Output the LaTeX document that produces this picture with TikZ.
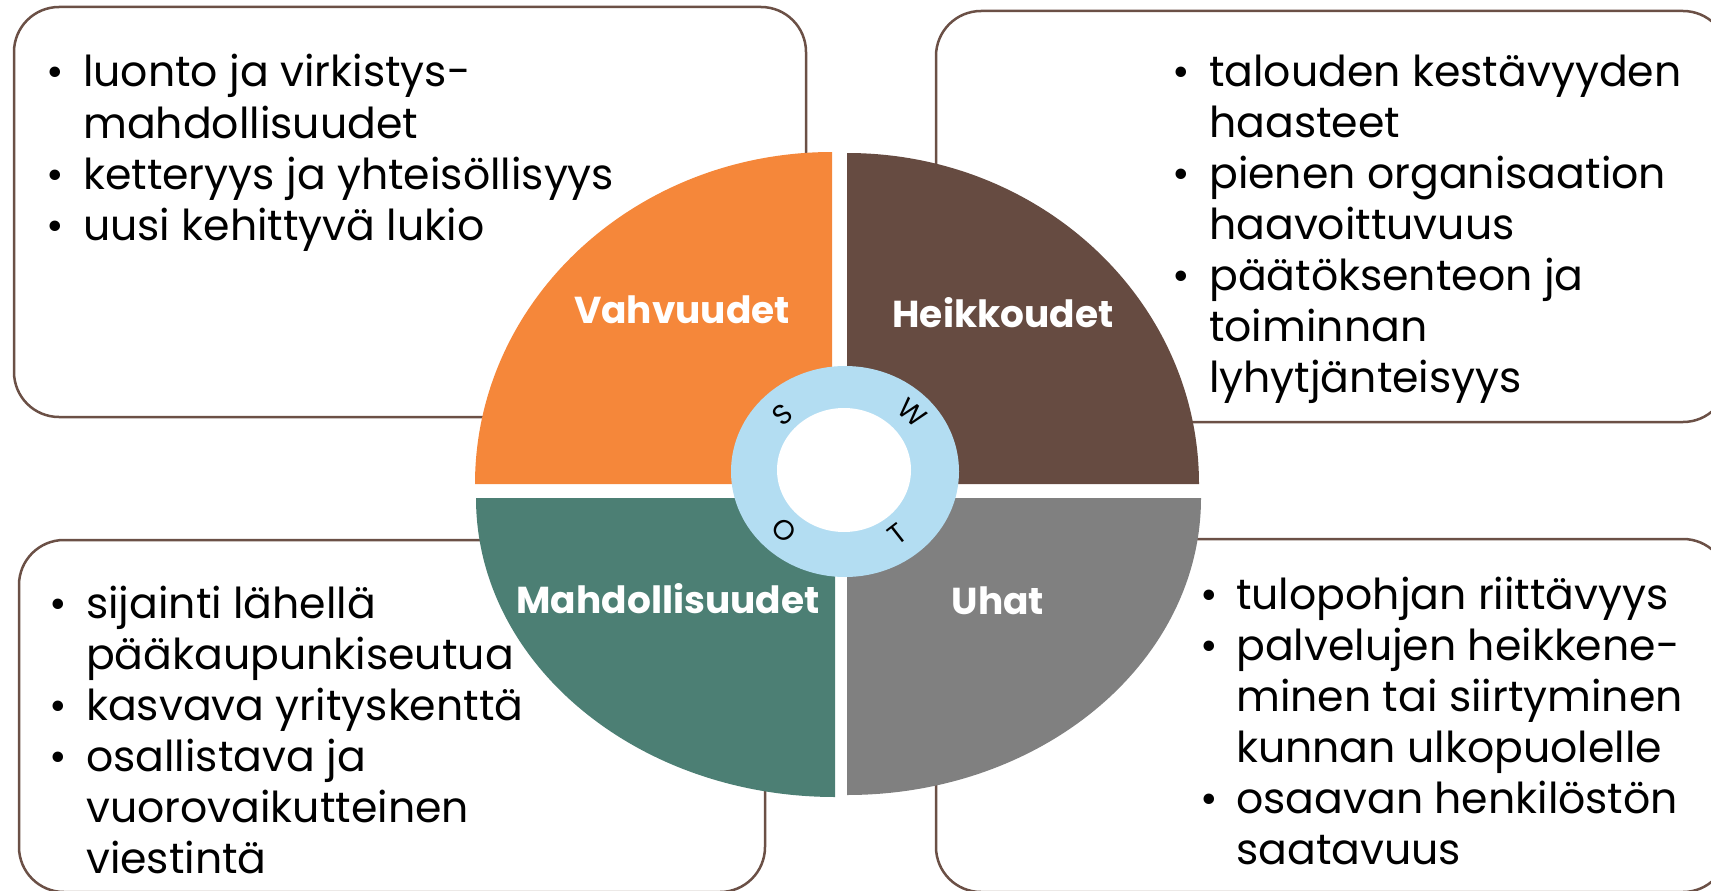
\documentclass[tikz,border=0pt]{standalone}
\usepackage{fontspec}
\setmainfont{Poppins}
\definecolor{vorange}{HTML}{F5873A}
\definecolor{hbrown}{HTML}{664B41}
\definecolor{mteal}{HTML}{4C7F74}
\definecolor{ugray}{HTML}{808080}
\definecolor{ringblue}{HTML}{B3DDF2}
\definecolor{boxline}{HTML}{6B5046}
\begin{document}
\begin{tikzpicture}[x=1pt,y=1pt,
  box/.style={draw=boxline, line width=2.5pt, rounded corners=45pt, fill=white},
  body/.style={anchor=base west, inner sep=0pt, font=\fontsize{42.6}{50}\selectfont},
  bul/.style={anchor=base, inner sep=0pt, font=\fontsize{42.6}{50}\selectfont},
  lab/.style={anchor=base, inner sep=0pt, text=white, font=\fontsize{37.5}{42}\selectfont\bfseries},
  swot/.style={inner sep=0pt, font=\fontsize{28}{32}\selectfont}]
\useasboundingbox (0,0) rectangle (1711,-891);
% boxes
\draw[box] (14,-7) rectangle (806,-417);
\draw[box] (936,-11) rectangle (1728,-422);
\draw[box] (19,-540) rectangle (765,-892);
\draw[box] (936,-539) rectangle (1728,-892);
% quadrants
\fill[vorange] (832,-484) -- (475,-484) arc[start angle=180, end angle=90, x radius=357, y radius=332] -- cycle;
\fill[hbrown] (847,-484) -- (847,-153) arc[start angle=90, end angle=0, x radius=352, y radius=331] -- cycle;
\fill[mteal] (835,-498) -- (476,-498) arc[start angle=180, end angle=270, x radius=359, y radius=299] -- cycle;
\fill[ugray] (847,-498) -- (1201,-498) arc[start angle=0, end angle=-90, x radius=354, y radius=297] -- cycle;
% ring
\fill[ringblue] (845,-471.5) ellipse[x radius=114, y radius=105.5];
\fill[white] (844,-470) ellipse[x radius=67, y radius=62];
\node[swot, rotate=40] (ls) at (782,-415) {S};
\node[swot, rotate=-40] (lw) at (912,-413) {W};
\node[swot, rotate=-45] (lo) at (784,-530) {O};
\node[swot, rotate=38] (lt) at (897,-534) {T};
% labels
\node[lab] (lv) at (682,-323) {Vahvuudet};
\node[lab] (lh) at (1003,-327) {Heikkoudet};
\node[lab] (lm) at (668,-613) {Mahdollisuudet};
\node[lab] (lu) at (998,-614) {Uhat};
\begin{scope}[yshift=-2pt]
% strengths
\node[bul] (sb1) at (55,-85) {•};
\node[body] (s1) at (83,-85) {luonto ja virkistys-};
\node[body] (s1b) at (83,-136) {mahdollisuudet};
\node[bul] (sb2) at (55,-187) {•};
\node[body] (s2) at (83,-187) {ketteryys ja yhteisöllisyys};
\node[bul] (sb3) at (55,-238) {•};
\node[body] (s3) at (83,-238) {uusi kehittyvä lukio};
% weaknesses
\node[bul] (wb1) at (1181,-84) {•};
\node[body] (w1) at (1209,-84) {talouden kestävyyden};
\node[body] (w1b) at (1209,-135) {haasteet};
\node[bul] (wb2) at (1181,-186) {•};
\node[body] (w2) at (1209,-186) {pienen organisaation};
\node[body] (w2b) at (1209,-237) {haavoittuvuus};
\node[bul] (wb3) at (1181,-288) {•};
\node[body] (w3) at (1209,-288) {päätöksenteon ja};
\node[body] (w3b) at (1209,-339) {toiminnan};
\node[body] (w3c) at (1209,-390) {lyhytjänteisyys};
% opportunities
\node[bul] (ob1) at (58,-616) {•};
\node[body] (o1) at (86,-616) {sijainti lähellä};
\node[body] (o1b) at (86,-667) {pääkaupunkiseutua};
\node[bul] (ob2) at (58,-718) {•};
\node[body] (o2) at (86,-718) {kasvava yrityskenttä};
\node[bul] (ob3) at (58,-769) {•};
\node[body] (o3) at (86,-769) {osallistava ja};
\node[body] (o3b) at (86,-820) {vuorovaikutteinen};
\node[body] (o3c) at (86,-871) {viestintä};
% threats
\node[bul] (tb1) at (1209,-607) {•};
\node[body] (t1) at (1236,-607) {tulopohjan riittävyys};
\node[bul] (tb2) at (1209,-658) {•};
\node[body] (t2) at (1236,-658) {palvelujen heikkene-};
\node[body] (t2b) at (1236,-709) {minen tai siirtyminen};
\node[body] (t2c) at (1236,-760) {kunnan ulkopuolelle};
\node[bul] (tb3) at (1209,-811) {•};
\node[body] (t3) at (1236,-811) {osaavan henkilöstön};
\node[body] (t3b) at (1236,-862) {saatavuus};
\end{scope}
\end{tikzpicture}
\end{document}
